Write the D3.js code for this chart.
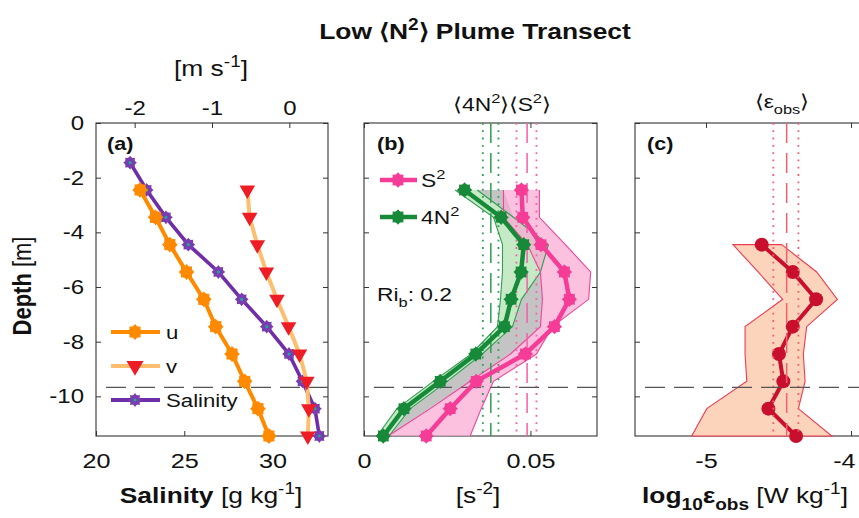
<!DOCTYPE html>
<html><head><meta charset="utf-8">
<script src="https://cdn.jsdelivr.net/npm/d3@7"></script>
<style>
body{margin:0;background:#fff}
svg{display:block}
text{font-family:"Liberation Sans",Arial,Helvetica,sans-serif;fill:#111}
</style>
</head><body>
<svg id="chart" width="859" height="518"></svg>
<script>
// ---------------- data ----------------
const depthSal = [-1.45,-2.45,-3.45,-4.45,-5.45,-6.45,-7.45,-8.45,-9.45,-10.45,-11.45];
const salinity = [21.93,22.87,23.96,25.23,26.93,28.25,29.67,30.93,31.69,32.40,32.65];
const depthVel = [-2.45,-3.45,-4.45,-5.45,-6.45,-7.45,-8.45,-9.45,-10.45,-11.45];
const uVel = [-1.93,-1.73,-1.545,-1.33,-1.106,-0.952,-0.741,-0.577,-0.406,-0.264];
const vVel = [-0.543,-0.513,-0.414,-0.297,-0.16,-0.01,0.132,0.226,0.252,0.239];

const depthB = [-2.45,-3.45,-4.45,-5.45,-6.45,-7.45,-8.45,-9.45,-10.45,-11.45];
const shearSq   = [0.0473,0.0477,0.0532,0.0602,0.0617,0.0572,0.0485,0.0337,0.0259,0.0187];
const shearSqLo = [0.0419,0.0419,0.0491,0.0530,0.0536,0.0530,0.0440,0.0319,0.0199,0.0072];
const shearSqHi = [0.0527,0.0527,0.0605,0.0681,0.0675,0.0566,0.0518,0.0389,0.0352,0.0319];
const fourNSq   = [0.0302,0.0412,0.0480,0.0472,0.0442,0.0422,0.0336,0.0229,0.0120,0.0058];
const fourNSqLo = [0.0274,0.0389,0.0416,0.0416,0.0410,0.0401,0.0322,0.0208,0.0099,0.0039];
const fourNSqHi = [0.0340,0.0449,0.0554,0.0530,0.0473,0.0446,0.0355,0.0250,0.0139,0.0075];
const avgFourNSq = [0.0357,0.0381,0.0404];   // lower, mean, upper
const avgShearSq = [0.0458,0.0490,0.0518];   // lower, mean, upper
const riB = "0.2";

const depthEps = [-4.45,-5.45,-6.45,-7.45,-8.45,-9.45,-10.45,-11.45];
const logEps   = [-4.616,-4.402,-4.241,-4.402,-4.497,-4.467,-4.570,-4.379];
const logEpsLo = [-4.814,-4.641,-4.471,-4.731,-4.731,-4.719,-4.995,-5.099];
const logEpsHi = [-4.478,-4.237,-4.094,-4.306,-4.329,-4.317,-4.363,-4.133];
const avgLogEps = [-4.536,-4.444,-4.363];    // lower, mean, upper

const plumeBase = -9.67;
const ticksDepth = [0,-2,-4,-6,-8,-10];
const ticksSal = [20,25,30];
const ticksVel = [-2,-1,0];
const ticksB = [0,0.05];
const ticksC = [-5,-4];

// ---------------- layout ----------------
const SX = 1.2;              // horizontal text stretch of the original raster
const TOP = 123, BOT = 436;
const PA = [96,328], PB = [364,597], PC = [635,868];
const svg = d3.select("#chart");
svg.append("rect").attr("width",859).attr("height",518).attr("fill","#fff");

const y = d3.scaleLinear().domain([-11.45,0]).range([BOT,TOP]);
const xSal = d3.scaleLinear().domain([20,33.14]).range(PA);
const xVel = d3.scaleLinear().domain([-2.5,0.5]).range(PA);
const xB = d3.scaleLinear().domain([0,0.07]).range(PB);
const xC = d3.scaleLinear().domain([-5.49,-3.883]).range(PC);

function rich(parent, x, yy, parts, o={}) {
  const size = o.size||20;
  const t = parent.append("text")
    .attr("text-anchor", o.anchor||"middle")
    .attr("font-size", size)
    .attr("transform", `translate(${x},${yy}) scale(${SX},1)` + (o.rotate ? ` rotate(${o.rotate})` : ""));
  let shift = 0;
  parts.forEach(p => {
    const s = p.sup ? -0.42*size : p.sub ? 0.3*size : 0;
    const ts = t.append("tspan").text(p.t).attr("dy", s - shift);
    if (p.sup || p.sub) ts.attr("font-size", size*0.72);
    if (p.b) ts.attr("font-weight","bold");
    shift = s;
  });
  return t;
}

function styleAxis(g, size) {
  g.attr("font-size",null).attr("font-family",null);
  g.select(".domain").remove();
  g.selectAll(".tick line").attr("stroke","#333").attr("stroke-width",1);
  g.selectAll("text").attr("font-size",size).attr("fill","#111")
    .attr("transform",`scale(${SX},1)`);
  return g;
}
const fmt = d => String(d);

function frame(P, xScale, tickVals, showBottomLabels, topScale, topTicks, topLabels, yLabels) {
  const g = svg.append("g");
  g.append("rect").attr("x",P[0]).attr("y",TOP).attr("width",P[1]-P[0]).attr("height",BOT-TOP)
    .attr("fill","none").attr("stroke","#333").attr("stroke-width",1.1);
  const left = d3.axisLeft(y).tickValues(ticksDepth).tickSizeInner(-5).tickSizeOuter(0).tickPadding(10)
    .tickFormat(yLabels ? fmt : "");
  styleAxis(g.append("g").attr("transform",`translate(${P[0]},0)`).call(left), 20);
  const right = d3.axisRight(y).tickValues(ticksDepth).tickSizeInner(-5).tickSizeOuter(0).tickFormat("");
  styleAxis(g.append("g").attr("transform",`translate(${P[1]},0)`).call(right), 20);
  const bottom = d3.axisBottom(xScale).tickValues(tickVals).tickSizeInner(-5).tickSizeOuter(0).tickPadding(17)
    .tickFormat(showBottomLabels ? fmt : "");
  styleAxis(g.append("g").attr("class","xbottom").attr("transform",`translate(0,${BOT})`).call(bottom), 21);
  const top = d3.axisTop(topScale).tickValues(topTicks).tickSizeInner(-5).tickSizeOuter(0).tickPadding(8)
    .tickFormat(topLabels ? fmt : "");
  styleAxis(g.append("g").attr("transform",`translate(0,${TOP})`).call(top), 20);
  return g;
}

function hDash(P) {
  svg.append("line").attr("x1",P[0]+10).attr("x2",P[1]).attr("y1",y(plumeBase)).attr("y2",y(plumeBase))
    .attr("stroke","#555").attr("stroke-width",1.4).attr("stroke-dasharray","20,9");
}
function vLines(xs, vals, color) {
  vals.forEach((v,i) => {
    svg.append("line").attr("x1",xs(v)).attr("x2",xs(v)).attr("y1",TOP).attr("y2",BOT)
      .attr("stroke",color).attr("stroke-width", i===1 ? 1.5 : 1.8)
      .attr("stroke-dasharray", i===1 ? "20,10" : "1.8,5.5");
  });
}
// jagged round marker (MATLAB hexagram + star overlay look)
const starPts = r => d3.range(16).map(k => [k*Math.PI/8, k%2 ? r-0.6 : r+1.4]);
const starGen = d3.lineRadial().curve(d3.curveLinearClosed);
function starMarker(g, cx, cy, r, color) {
  g.append("path").attr("d", starGen(starPts(r)))
    .attr("transform",`translate(${cx},${cy})`).attr("fill",color);
  g.append("circle").attr("cx",cx).attr("cy",cy).attr("r",r-0.4).attr("fill",color);
}
function triMarker(g, cx, cy, color, sz) {
  g.append("path").attr("d", d3.symbol().type(d3.symbolTriangle).size(sz||105)())
    .attr("transform",`translate(${cx},${cy}) rotate(180)`).attr("fill",color);
}

// ---------------- title ----------------
rich(svg, 475, 39, [{t:"Low \u27E8N",b:1},{t:"2",sup:1,b:1},{t:"\u27E9 Plume Transect",b:1}], {size:22});
rich(svg, 31, 286, [{t:"Depth",b:1},{t:" [m]"}], {size:22, rotate:-90});

// ================= panel (a) =================
frame(PA, xSal, ticksSal, true, xVel, ticksVel, true, true);
hDash(PA);
const ga = svg.append("g");
const idxS = d3.range(salinity.length), idxV = d3.range(uVel.length);
ga.append("path").attr("d", d3.line().x(i=>xSal(salinity[i])).y(i=>y(depthSal[i]))(idxS))
  .attr("fill","none").attr("stroke","#6f2da8").attr("stroke-width",3.6);
idxS.forEach(i => { starMarker(ga, xSal(salinity[i]), y(depthSal[i]), 5.5, "#7a3db0");
  ga.append("circle").attr("cx",xSal(salinity[i])).attr("cy",y(depthSal[i])).attr("r",1.6).attr("fill","#1fa5a0"); });
ga.append("path").attr("d", d3.line().x(i=>xVel(uVel[i])).y(i=>y(depthVel[i]))(idxV))
  .attr("fill","none").attr("stroke","#ff8a00").attr("stroke-width",4);
idxV.forEach(i => starMarker(ga, xVel(uVel[i]), y(depthVel[i]), 6.5, "#ff8a00"));
ga.append("path").attr("d", d3.line().x(i=>xVel(vVel[i])).y(i=>y(depthVel[i]))(idxV))
  .attr("fill","none").attr("stroke","#fdbe6f").attr("stroke-width",4);
idxV.forEach(i => triMarker(ga, xVel(vVel[i]), y(depthVel[i]), "#ee1c25"));

// legend (a)
const legA = [{n:"u",y:332},{n:"v",y:366},{n:"Salinity",y:400}];
legA.forEach((L,k) => {
  const col = k===0 ? "#ff8a00" : k===1 ? "#fdbe6f" : "#6f2da8";
  ga.append("line").attr("x1",111).attr("x2",160).attr("y1",L.y).attr("y2",L.y).attr("stroke",col).attr("stroke-width",4);
  if (k===0) starMarker(ga,135,L.y,6.5,"#ff8a00");
  if (k===1) triMarker(ga,135,L.y,"#ee1c25",125);
  if (k===2) { starMarker(ga,135,L.y,5.5,"#7a3db0"); ga.append("circle").attr("cx",135).attr("cy",L.y).attr("r",1.6).attr("fill","#1fa5a0"); }
  rich(ga, 166, L.y+6.5, [{t:L.n}], {size:18.5, anchor:"start"});
});
rich(svg, 107, 150, [{t:"(a)",b:1}], {size:18, anchor:"start"});
rich(svg, 211, 76, [{t:"[m s"},{t:"-1",sup:1},{t:"]"}], {size:22});
rich(svg, 211, 503, [{t:"Salinity",b:1},{t:"  [g kg"},{t:"-1",sup:1},{t:"]"}], {size:22});

// ================= panel (b) =================
frame(PB, xB, ticksB, true, xB, ticksB, false, false);
const gb = svg.append("g");
const idxB = d3.range(depthB.length);
// grey region between the two bands
gb.append("path").attr("d", d3.area().y(i=>y(depthB[i]))
    .x0(i=>xB(fourNSqHi[i])).x1(i=>xB(Math.max(fourNSqHi[i], shearSqLo[i])))(idxB))
  .attr("fill","#c4c4c4");
gb.append("path").attr("d", d3.area().y(i=>y(depthB[i])).x0(i=>xB(fourNSqLo[i])).x1(i=>xB(fourNSqHi[i]))(idxB))
  .attr("fill","#aee0ae").attr("fill-opacity",0.7);
gb.append("path").attr("d", d3.area().y(i=>y(depthB[i])).x0(i=>xB(shearSqLo[i])).x1(i=>xB(shearSqHi[i]))(idxB))
  .attr("fill","#f9a6d2").attr("fill-opacity",0.7);
[[fourNSqLo,"#2e9e50"],[fourNSqHi,"#2e9e50"],[shearSqLo,"#f0449a"],[shearSqHi,"#f0449a"]].forEach(([arr,c]) => {
  gb.append("path").attr("d", d3.line().x(i=>xB(arr[i])).y(i=>y(depthB[i]))(idxB))
    .attr("fill","none").attr("stroke",c).attr("stroke-width",1.1);
});
vLines(xB, avgFourNSq, "#2e9e50");
vLines(xB, avgShearSq, "#f55fa8");
hDash(PB);
const gb2 = svg.append("g");
gb2.append("path").attr("d", d3.line().x(i=>xB(shearSq[i])).y(i=>y(depthB[i]))(idxB))
  .attr("fill","none").attr("stroke","#f53d98").attr("stroke-width",4.5);
idxB.forEach(i => starMarker(gb2, xB(shearSq[i]), y(depthB[i]), 6.3, "#f53d98"));
gb2.append("path").attr("d", d3.line().x(i=>xB(fourNSq[i])).y(i=>y(depthB[i]))(idxB))
  .attr("fill","none").attr("stroke","#178a3a").attr("stroke-width",4.5);
idxB.forEach(i => starMarker(gb2, xB(fourNSq[i]), y(depthB[i]), 6.3, "#178a3a"));
// legend (b)
[[180,"#f53d98",[{t:"S"},{t:"2",sup:1}]],[217,"#178a3a",[{t:"4N"},{t:"2",sup:1}]]].forEach(([ly,c,parts]) => {
  gb2.append("line").attr("x1",380).attr("x2",417).attr("y1",ly).attr("y2",ly).attr("stroke",c).attr("stroke-width",4.5);
  starMarker(gb2, 398, ly, 6.3, c);
  rich(gb2, 421, ly+7, parts, {size:19, anchor:"start"});
});
rich(svg, 377, 301, [{t:"Ri"},{t:"b",sub:1},{t:": "+riB}], {size:19, anchor:"start"});
rich(svg, 377, 150, [{t:"(b)",b:1}], {size:18, anchor:"start"});
rich(svg, 502, 111, [{t:"\u27E84N"},{t:"2",sup:1},{t:"\u27E9\u27E8S"},{t:"2",sup:1},{t:"\u27E9"}], {size:19});
rich(svg, 478, 503, [{t:"[s"},{t:"-2",sup:1},{t:"]"}], {size:22});

// ================= panel (c) =================
const fc = frame(PC, xC, ticksC, true, xC, ticksC, false, false);
fc.select(".xbottom").selectAll(".tick text").filter(d => d === -4).attr("dx", -6);
const gc = svg.append("g");
const idxC = d3.range(depthEps.length);
gc.append("path").attr("d", d3.area().y(i=>y(depthEps[i])).x0(i=>xC(logEpsLo[i])).x1(i=>xC(logEpsHi[i]))(idxC))
  .attr("fill","#fcd3bb").attr("stroke","#ef3b4f").attr("stroke-width",1.1);
vLines(xC, avgLogEps, "#f2606e");
hDash(PC);
gc.append("path").attr("d", d3.line().x(i=>xC(logEps[i])).y(i=>y(depthEps[i]))(idxC))
  .attr("fill","none").attr("stroke","#c8102e").attr("stroke-width",4);
idxC.forEach(i => gc.append("circle").attr("cx",xC(logEps[i])).attr("cy",y(depthEps[i])).attr("r",7).attr("fill","#c8102e"));
rich(svg, 647, 150, [{t:"(c)",b:1}], {size:18, anchor:"start"});
rich(svg, 782, 108, [{t:"\u27E8\u03B5"},{t:"obs",sub:1},{t:"\u27E9"}], {size:19});
rich(svg, 642, 503, [{t:"log",b:1},{t:"10",sub:1,b:1},{t:"\u03B5",b:1},{t:"obs",sub:1,b:1},{t:" [W kg"},{t:"-1",sup:1},{t:"]"}], {size:22, anchor:"start"});
</script>
</body></html>
